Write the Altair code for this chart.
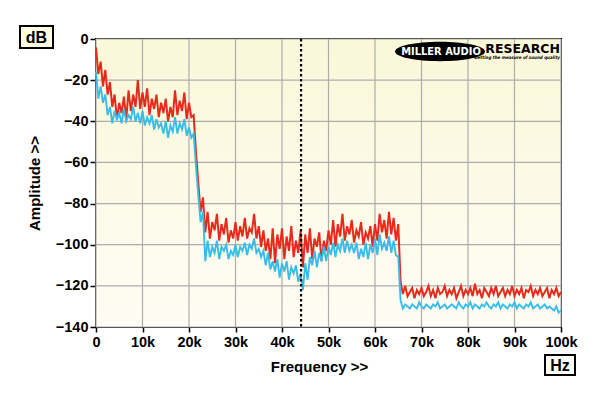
import altair as alt
import pandas as pd

# frequency in kHz, 0.5 kHz steps
freq_khz = [i * 0.5 for i in range(201)]

red_db = [
    -4, -17, -11, -23, -15, -27, -21, -33, -27, -39,
    -31, -36, -28, -39, -25, -35, -27, -33, -20, -34,
    -26, -33, -24, -37, -29, -34, -27, -38, -31, -36,
    -29, -40, -33, -38, -25, -37, -30, -35, -26, -39,
    -31, -38, -37, -55, -70, -84, -77, -94, -84, -97,
    -89, -93, -85, -98, -90, -95, -87, -99, -93, -97,
    -89, -98, -91, -96, -87, -97, -92, -94, -85, -97,
    -91, -101, -93, -103, -97, -107, -92, -109, -95, -102,
    -92, -107, -96, -103, -91, -106, -98, -104, -93, -111,
    -95, -104, -92, -107, -97, -101, -94, -108, -98, -103,
    -93, -100, -88, -101, -90, -96, -85, -98, -91, -95,
    -88, -99, -93, -96, -89, -100, -94, -97, -91, -101,
    -90, -98, -85, -94, -88, -97, -84, -95, -87, -98,
    -90, -118, -124, -120, -125, -123, -121, -126, -122, -124,
    -121, -125, -123, -120, -125, -122, -126, -121, -124, -123,
    -120, -125, -122, -124, -121, -126, -123, -120, -125, -122,
    -124, -121, -125, -119, -124, -122, -126, -121, -123, -125,
    -121, -124, -120, -125, -123, -121, -125, -122, -124, -120,
    -125, -122, -124, -121, -126, -122, -123, -120, -125, -122,
    -124, -121, -125, -123, -121, -126, -122, -124, -121, -125,
    -123,
]

cyan_db = [
    -16, -29, -23, -31, -27, -37, -33, -41, -35, -39,
    -36, -41, -34, -40, -37, -39, -33, -40, -36, -41,
    -35, -42, -38, -41, -37, -44, -39, -43, -41, -46,
    -40, -48, -42, -45, -38, -46, -41, -44, -39, -47,
    -43, -48, -46, -62, -76, -89, -84, -108, -98, -106,
    -101, -104, -98, -107, -101, -103, -100, -107, -103, -105,
    -100, -106, -101, -103, -99, -105, -100, -102, -97, -104,
    -102, -106, -103, -110, -104, -112, -108, -113, -107, -116,
    -109, -113, -108, -117, -111, -114, -110, -118, -114, -122,
    -109, -117, -106, -110, -103, -111, -104, -108, -101, -108,
    -101, -105, -99, -106, -100, -103, -97, -104, -98, -103,
    -100, -104, -99, -107, -102, -106, -99, -107, -100, -104,
    -97, -105, -95, -102, -99, -103, -96, -104, -98, -105,
    -106, -127, -131, -129, -130, -131, -129, -130, -131, -128,
    -130, -131, -129, -130, -131, -129, -130, -128, -131, -130,
    -129, -131, -130, -129, -130, -131, -128, -130, -131, -129,
    -130, -128, -131, -129, -130, -131, -129, -130, -128, -130,
    -131, -129, -130, -128, -131, -129, -130, -131, -129, -130,
    -128, -131, -129, -130, -131, -129, -130, -128, -131, -130,
    -129, -131, -130, -129, -131, -130, -131, -132, -130, -133,
    -132,
]

x_ticks = [0, 10, 20, 30, 40, 50, 60, 70, 80, 90, 100]
y_ticks = [-140, -120, -100, -80, -60, -40, -20, 0]
marker_khz = [44.1]

W, H = 465, 288
FONT = "Liberation Sans"

df_red = pd.DataFrame({"f": freq_khz, "db": red_db})
df_cyan = pd.DataFrame({"f": freq_khz, "db": cyan_db})

xscale = alt.Scale(domain=[0, 100], nice=False, zero=False)
yscale = alt.Scale(domain=[-140, 0], nice=False, zero=False)

xaxis = alt.Axis(
    values=x_ticks, grid=False, domain=False,
    labelExpr="datum.value == 0 ? '0' : datum.value + 'k'",
    labelFont=FONT, labelFontSize=14.5, labelFontWeight="bold", labelColor="black",
    labelPadding=3, tickColor="black", tickSize=5, tickWidth=1.5,
    title="Frequency >>", titleFont=FONT, titleFontSize=15, titleFontWeight="bold",
    titleColor="black", titleX=223, titleY=44.5, titleAlign="center",
    titleBaseline="alphabetic", labelFlush=False, labelOverlap=False,
)
yaxis = alt.Axis(
    values=y_ticks, grid=False, domain=False,
    labelFont=FONT, labelFontSize=14.5, labelFontWeight="bold", labelColor="black",
    labelPadding=2, tickColor="black", tickSize=6, tickWidth=1.5,
    title="Amplitude >>", titleFont=FONT, titleFontSize=15, titleFontWeight="bold",
    titleColor="black", titleX=-57, titleY=144, titleAngle=-90, titleAlign="center",
    titleBaseline="alphabetic", labelFlush=False, labelOverlap=False,
)

one = alt.Data(values=[{}])

bg = alt.Chart(one).mark_rect(
    fill=alt.LinearGradient(
        gradient="linear", x1=0, x2=0, y1=0, y2=1,
        stops=[alt.GradientStop(color="#fbf7d9", offset=0),
               alt.GradientStop(color="#fefdf4", offset=1)],
    )
).encode(x=alt.value(0), x2=alt.value(W), y=alt.value(0), y2=alt.value(H))

vgrid = alt.Chart(pd.DataFrame({"v": x_ticks})).mark_rule(
    color="#adadad", strokeWidth=1.2
).encode(x=alt.X("v:Q", scale=xscale, axis=xaxis))

hgrid = alt.Chart(pd.DataFrame({"v": y_ticks})).mark_rule(
    color="#adadad", strokeWidth=1.2
).encode(y=alt.Y("v:Q", scale=yscale, axis=yaxis))

red = alt.Chart(df_red).mark_line(color="#e62a1c", strokeWidth=2.0).encode(
    x=alt.X("f:Q", scale=xscale, axis=xaxis),
    y=alt.Y("db:Q", scale=yscale, axis=yaxis),
)
cyan = alt.Chart(df_cyan).mark_line(color="#38bdea", strokeWidth=1.9).encode(
    x=alt.X("f:Q", scale=xscale, axis=xaxis),
    y=alt.Y("db:Q", scale=yscale, axis=yaxis),
)

marker = alt.Chart(pd.DataFrame({"m": marker_khz})).mark_rule(
    color="black", strokeWidth=2.2, strokeDash=[2.5, 2.5]
).encode(x=alt.X("m:Q", scale=xscale, axis=xaxis))

# decorations
db_box = alt.Chart(one).mark_rect(fill="#fdfbe2", stroke="black", strokeWidth=2).encode(
    x=alt.value(-76), x2=alt.value(-43), y=alt.value(-13), y2=alt.value(9))
db_txt = alt.Chart(one).mark_text(
    text="dB", font=FONT, fontSize=16, fontWeight="bold", color="black",
    align="center", baseline="middle").encode(x=alt.value(-59.5), y=alt.value(-1.5))
hz_box = alt.Chart(one).mark_rect(fill="#fefef8", stroke="black", strokeWidth=2).encode(
    x=alt.value(449), x2=alt.value(479), y=alt.value(316), y2=alt.value(336))
hz_txt = alt.Chart(one).mark_text(
    text="Hz", font=FONT, fontSize=16, fontWeight="bold", color="black",
    align="center", baseline="middle").encode(x=alt.value(464), y=alt.value(326.5))

logo_ell = alt.Chart(one).mark_point(
    shape="M -1 0 A 1 0.215 0 1 1 1 0 A 1 0.215 0 1 1 -1 0 Z",
    filled=True, color="black", opacity=1, size=8100,
).encode(x=alt.value(344), y=alt.value(12.5))
logo_t1 = alt.Chart(one).mark_text(
    text="MILLER AUDIO", font="DejaVu Sans Condensed", fontSize=11, fontWeight="bold",
    color="white", align="center", baseline="middle").encode(x=alt.value(345), y=alt.value(12.5))
logo_t2 = alt.Chart(one).mark_text(
    text="RESEARCH", font="DejaVu Sans", fontSize=12.5, fontWeight="bold",
    color="black", align="right", baseline="middle").encode(x=alt.value(464), y=alt.value(10))
logo_t3 = alt.Chart(one).mark_text(
    text="Getting the measure of sound quality", font="DejaVu Sans Condensed", fontSize=4.5,
    fontWeight="bold", fontStyle="italic",
    color="black", align="right", baseline="middle").encode(x=alt.value(464), y=alt.value(18.5))

chart = alt.layer(
    bg, vgrid, hgrid, red, cyan, marker,
    logo_ell, logo_t1, logo_t2, logo_t3,
    db_box, db_txt, hz_box, hz_txt,
).properties(
    width=W, height=H,
    autosize=alt.AutoSizeParams(type="none"),
    padding={"left": 88, "top": 31, "right": 31, "bottom": 61},
    background="white",
).configure_view(stroke="black", strokeWidth=2)

chart.save("out.html", embed_options={"renderer": "svg", "actions": False})
